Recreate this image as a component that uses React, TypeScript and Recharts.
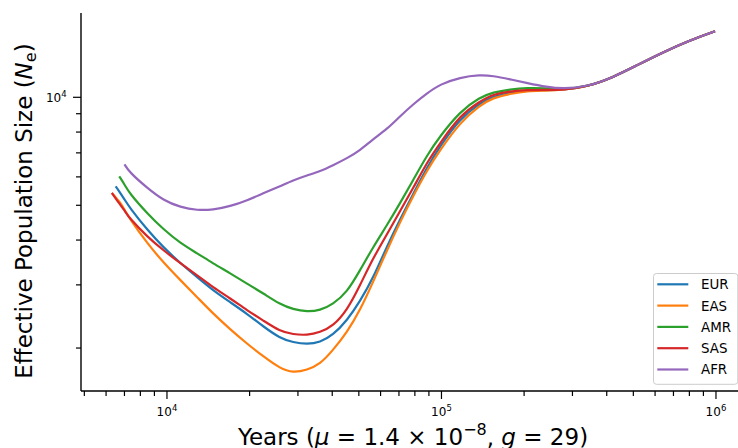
import React from 'react';
import { LineChart, Line, XAxis, YAxis, Legend } from 'recharts';

// Years before present (x axis, log scale)
const years = [6300, 6500, 6700, 7000, 7300, 8500, 9700, 11200, 12900, 14700, 17000, 19600, 22400, 25800, 28800, 32400, 36100, 40200, 45300, 50500, 56300, 63300, 70600, 78800, 88600, 98700, 117000, 138000, 154000, 178000, 205000, 242000, 277000, 339000, 422000, 515000, 641000, 804000, 992000];

// Effective population size per population
const EUR = [null, 5648, 5470, 5195, 4934, 4258, 3818, 3445, 3149, 2897, 2683, 2490, 2299, 2130, 2075, 2049, 2075, 2171, 2388, 2699, 3129, 3843, 4570, 5366, 6380, 7302, 8738, 9622, 10064, 10293, 10460, 10460, 10493, 10698, 11369, 12281, 13349, 14417, 15276];
const EAS = [5411, 5262, 5128, 4872, 4600, 3904, 3467, 3090, 2769, 2498, 2255, 2055, 1897, 1755, 1706, 1738, 1801, 1971, 2213, 2547, 3050, 3746, 4483, 5297, 6259, 7116, 8518, 9499, 9968, 10227, 10413, 10430, 10493, 10698, 11369, 12281, 13349, 14417, 15276];
const AMR = [null, null, 6022, 5721, 5400, 4735, 4286, 3917, 3673, 3445, 3231, 3021, 2842, 2648, 2564, 2523, 2547, 2648, 2860, 3294, 3818, 4398, 5062, 5870, 6893, 7786, 9141, 10000, 10326, 10527, 10629, 10595, 10527, 10698, 11369, 12281, 13349, 14417, 15276];
const SAS = [5411, 5229, 5062, 4842, 4600, 4079, 3746, 3445, 3190, 2954, 2751, 2547, 2388, 2227, 2184, 2171, 2213, 2299, 2547, 2992, 3557, 4150, 4811, 5576, 6588, 7444, 8909, 9746, 10194, 10393, 10493, 10493, 10493, 10698, 11369, 12281, 13349, 14417, 15276];
const AFR = [null, null, null, 6505, 6179, 5576, 5161, 4934, 4842, 4856, 4966, 5161, 5400, 5648, 5870, 6061, 6219, 6462, 6760, 7116, 7640, 8150, 8851, 9561, 10260, 10871, 11369, 11554, 11480, 11225, 10961, 10683, 10561, 10698, 11369, 12281, 13349, 14417, 15276];

const seriesNames = ['EUR', 'EAS', 'AMR', 'SAS', 'AFR'];
const seriesValues = [EUR, EAS, AMR, SAS, AFR];
const seriesColors = ['#1f77b4', '#ff7f0e', '#2ca02c', '#d62728', '#9467bd'];

// Ticks
const xMajorTicks = [10000, 100000, 1000000];
const xMajorExps = ['4', '5', '6'];
const xMinorTicks = [5000, 6000, 7000, 8000, 9000, 20000, 30000, 40000, 50000, 60000, 70000, 80000, 90000, 200000, 300000, 400000, 500000, 600000, 700000, 800000, 900000];
const yMajorTicks = [10000];
const yMajorExps = ['4'];
const yMinorTicks = [2000, 3000, 4000, 5000, 6000, 7000, 8000, 9000];

const xDomain = [4862, 1265000];
const yDomain = [1518, 17179];

const data = years.map((x, i) => {
  const row: any = { x };
  seriesNames.forEach((n, k) => {
    row[n] = seriesValues[k][i];
  });
  return row;
});

const FONT = 'DejaVu Sans, sans-serif';

const XTick = (props: any) => {
  const { x, y, payload } = props;
  const idx = xMajorTicks.indexOf(payload.value);
  const major = idx >= 0;
  return (
    <g>
      <line x1={x} x2={x} y1={y} y2={y + (major ? 8 : 5)} stroke="#000" strokeWidth={1.2} />
      {major && (
        <text x={x} y={y + 24.5} textAnchor="middle" fontSize={12} fill="#000" fontFamily={FONT}>
          10<tspan dy={-5} fontSize={8.5}>{xMajorExps[idx]}</tspan>
        </text>
      )}
    </g>
  );
};

const YTick = (props: any) => {
  const { x, y, payload } = props;
  const idx = yMajorTicks.indexOf(payload.value);
  const major = idx >= 0;
  return (
    <g>
      <line x1={x - (major ? 8 : 5)} x2={x} y1={y} y2={y} stroke="#000" strokeWidth={1.2} />
      {major && (
        <text x={x - 14.3} y={y + 5} textAnchor="end" fontSize={12} fill="#000" fontFamily={FONT}>
          10<tspan dy={-5} fontSize={8.5}>{yMajorExps[idx]}</tspan>
        </text>
      )}
    </g>
  );
};

const XTitle = () => (
  <text x={413} y={445} textAnchor="middle" fontSize={23} fill="#000" fontFamily={FONT}>
    Years (<tspan fontStyle="italic">μ</tspan> = 1.4 × 10
    <tspan dy={-10} fontSize={16}>−8</tspan>
    <tspan dy={10}>, </tspan>
    <tspan fontStyle="italic">g</tspan> = 29)
  </text>
);

const YTitle = () => (
  <text
    x={32}
    y={211}
    transform="rotate(-90, 32, 211)"
    textAnchor="middle"
    fontSize={23}
    fill="#000"
    fontFamily={FONT}
  >
    Effective Population Size (<tspan fontStyle="italic">N</tspan>
    <tspan dy={4} fontSize={16}>e</tspan>
    <tspan dy={-4}>)</tspan>
  </text>
);

const LegendBox = () => (
  <svg width={87} height={114} style={{ display: 'block', overflow: 'visible' }}>
    <rect x={0.5} y={0.5} width={84.3} height={110.8} rx={3} fill="#fff" fillOpacity={0.8} stroke="#cccccc" strokeWidth={1} />
    {seriesNames.map((n, i) => {
      const cy = 11.3 + i * 21.3;
      return (
        <g key={n}>
          <line x1={4.3} x2={35.3} y1={cy} y2={cy} stroke={seriesColors[i]} strokeWidth={2.2} />
          <text x={48} y={cy + 4.9} fontSize={13.4} fill="#000" fontFamily={FONT}>
            {n}
          </text>
        </g>
      );
    })}
  </svg>
);

export default function App() {
  return (
    <div
      style={{
        position: 'fixed',
        left: 0,
        top: 0,
        width: 738,
        height: 448,
        overflow: 'hidden',
        background: '#fff',
      }}
    >
      <LineChart width={746} height={448} data={data} margin={{ top: 13, right: 2, bottom: 0, left: 0 }}>
        <XAxis
          dataKey="x"
          type="number"
          scale="log"
          domain={xDomain}
          allowDataOverflow
          ticks={[...xMinorTicks, ...xMajorTicks].sort((a, b) => a - b)}
          interval={0}
          tick={<XTick />}
          tickLine={false}
          tickSize={0}
          tickMargin={0}
          height={57}
          axisLine={{ stroke: '#000', strokeWidth: 1.4 }}
          label={<XTitle />}
        />
        <YAxis
          type="number"
          scale="log"
          domain={yDomain}
          allowDataOverflow
          ticks={[...yMinorTicks, ...yMajorTicks]}
          interval={0}
          tick={<YTick />}
          tickLine={false}
          tickSize={0}
          tickMargin={0}
          width={81}
          axisLine={{ stroke: '#000', strokeWidth: 1.4 }}
          label={<YTitle />}
        />
        {seriesNames.map((n, i) => (
          <Line
            key={n}
            dataKey={n}
            name={n}
            type="basis"
            stroke={seriesColors[i]}
            strokeWidth={2.2}
            dot={false}
            activeDot={false}
            connectNulls={false}
            isAnimationActive={false}
          />
        ))}
        <Legend
          layout="vertical"
          align="center"
          verticalAlign="middle"
          wrapperStyle={{ left: 652.7, top: 272.7, width: 87, height: 114 }}
          content={() => <LegendBox />}
        />
      </LineChart>
    </div>
  );
}
